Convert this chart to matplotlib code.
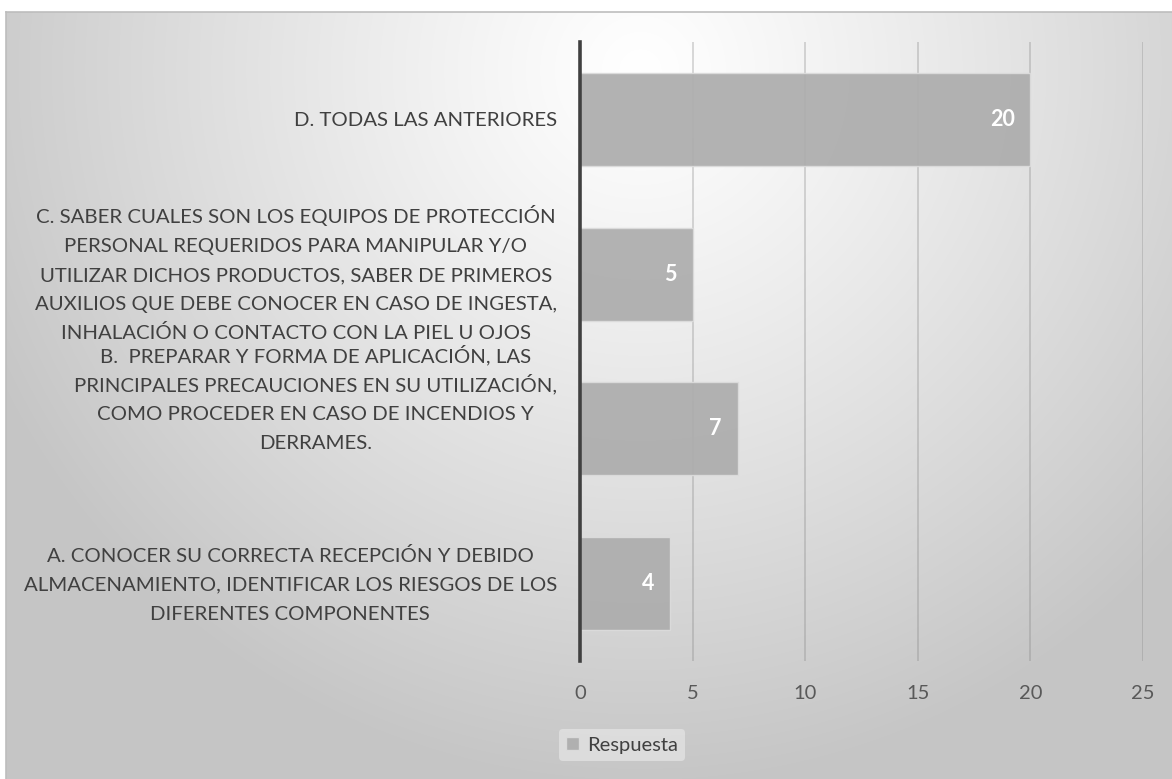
import numpy as np
import matplotlib
matplotlib.use("Agg")
import matplotlib.pyplot as plt
from matplotlib.transforms import ScaledTranslation

categories = [
    "A. CONOCER SU CORRECTA RECEPCIÓN Y DEBIDO\nALMACENAMIENTO, IDENTIFICAR LOS RIESGOS DE LOS\nDIFERENTES COMPONENTES",
    "B.  PREPARAR Y FORMA DE APLICACIÓN, LAS\nPRINCIPALES PRECAUCIONES EN SU UTILIZACIÓN,\nCOMO PROCEDER EN CASO DE INCENDIOS Y\nDERRAMES.",
    "C. SABER CUALES SON LOS EQUIPOS DE PROTECCIÓN\nPERSONAL REQUERIDOS PARA MANIPULAR Y/O\nUTILIZAR DICHOS PRODUCTOS, SABER DE PRIMEROS\nAUXILIOS QUE DEBE CONOCER EN CASO DE INGESTA,\nINHALACIÓN O CONTACTO CON LA PIEL U OJOS",
    "D. TODAS LAS ANTERIORES",
]
values = [4, 7, 5, 20]
series_name = "Respuesta"
x_ticks = [0, 5, 10, 15, 20, 25]
# vertical shift (in pixels) of each category label, as in the original layout
label_shift = [0, 30, 0, 0]

plt.rcParams['font.family'] = ['Lato', 'DejaVu Sans']

W, H = 1172, 779
DPI = 100
fig = plt.figure(figsize=(W / DPI, H / DPI), dpi=DPI)
fig.patch.set_facecolor('white')

# background gradient
bg = fig.add_axes([0, 0, 1, 1], zorder=-10)
yy, xx = np.mgrid[0:H, 0:W]
d = np.hypot(xx - 640, (yy - 70) * 1.0)
g = 255 - 58 * np.clip(d / 720, 0, 1) ** 1.15
img = np.dstack([g, g, g]) / 255.0
img[:12, :, :] = 1.0
img[:, :6, :] = 1.0
bg.imshow(img, extent=[0, W, H, 0], aspect='auto', interpolation='bilinear')
bg.plot([6, W], [12, 12], color='#bdbdbd', lw=1.2)
bg.plot([6, 6], [12, H], color='#bdbdbd', lw=1.2)
bg.set_xlim(0, W)
bg.set_ylim(H, 0)
bg.axis('off')

ax = fig.add_axes([580 / W, 1 - 661 / H, (1143 - 580) / W, (661 - 42) / H])
ax.patch.set_alpha(0)
pos = np.arange(len(categories))
bars = ax.barh(pos, values, height=0.6, color='#adadad', edgecolor='#dcdcdc',
               linewidth=1.0, zorder=2, alpha=0.93, label=series_name)
ax.set_xlim(0, 25)
ax.set_ylim(-0.5, len(categories) - 0.5)
ax.set_xticks(x_ticks)
ax.set_xticklabels([str(t) for t in x_ticks])
ax.grid(axis='x', color='#808080', alpha=0.35, lw=1.2, zorder=1)
ax.set_axisbelow(True)
for s in ['top', 'right', 'bottom']:
    ax.spines[s].set_visible(False)
ax.spines['left'].set_color('#404040')
ax.spines['left'].set_linewidth(2.6)
ax.spines['left'].set_zorder(5)
ax.tick_params(axis='x', length=0, pad=17, labelsize=14.5, labelcolor='#595959')
ax.set_yticks(pos)
ax.set_yticklabels([])
ax.tick_params(axis='y', length=0)

# category labels: each line drawn separately for even line spacing, block centred
renderer = fig.canvas.get_renderer()
base = ax.get_yaxis_transform()
LINE_PX = 29
GAP_PX = 23
FS = 14.7
for p, lab, sh in zip(pos, categories, label_shift):
    lines = lab.split('\n')
    n = len(lines)
    txts = []
    for i, ln in enumerate(lines):
        t = ax.text(0, p, ln, transform=base, ha='center', va='baseline',
                    fontsize=FS, color='#404040')
        txts.append(t)
    widths = [t.get_window_extent(renderer).width for t in txts]
    wmax = max(widths)
    cx = -(GAP_PX + wmax / 2)
    for i, t in enumerate(txts):
        dy = ((n - 1) / 2 - i) * LINE_PX - 7 + sh
        t.set_transform(base + ScaledTranslation(cx / DPI, dy / DPI, fig.dpi_scale_trans))

for b, v in zip(bars, values):
    ax.text(v - 0.7, b.get_y() + b.get_height() / 2, str(v), ha='right', va='center',
            color='white', fontsize=15.5, fontweight='bold', zorder=6)

leg = fig.legend(handles=[bars], labels=[series_name], loc='center',
                 bbox_to_anchor=(622 / W, 1 - 745 / H), frameon=True, fontsize=14.5,
                 handlelength=0.6, handleheight=0.6, handletextpad=0.4,
                 borderpad=0.35, labelcolor='#404040')
leg.get_frame().set_facecolor('#e2e2e2')
leg.get_frame().set_edgecolor('none')
leg.get_frame().set_alpha(0.8)

fig.savefig('out.png', dpi=DPI)
